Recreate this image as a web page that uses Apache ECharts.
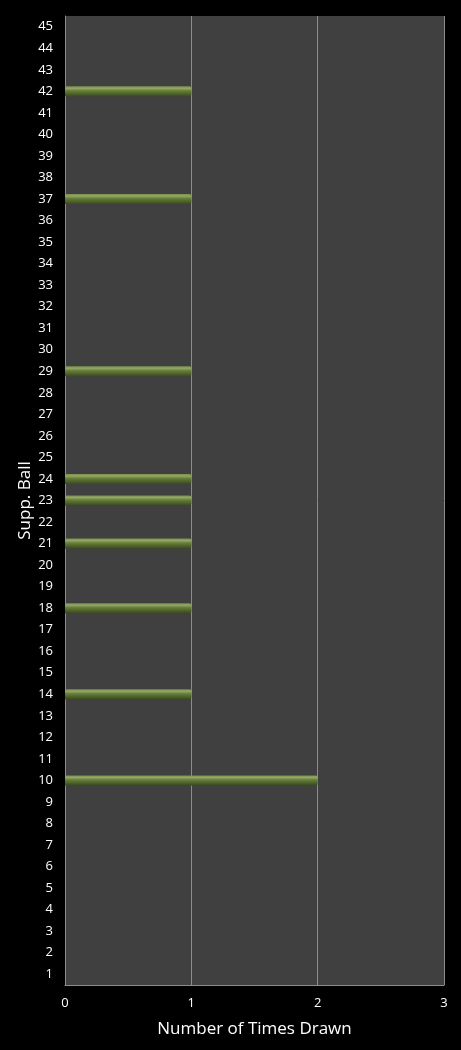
<!DOCTYPE html>
<html><head><meta charset="utf-8">
<style>html,body{margin:0;padding:0;background:#000;}#c{width:461px;height:1050px;}</style>
<script src="https://cdn.jsdelivr.net/npm/echarts@6/dist/echarts.min.js"></script>
</head><body><div id="c"></div>
<script>
const categories = Array.from({length:45},(_,i)=>String(i+1));
const drawnBalls = ['10','14','18','21','23','24','29','37','42'];
const drawnCounts = [2,1,1,1,1,1,1,1,1];
const xTicks = [0,1,2,3];
const values = categories.map(c => { const k = drawnBalls.indexOf(c); return k >= 0 ? drawnCounts[k] : 0; });

const chart = echarts.init(document.getElementById('c'));
chart.setOption({
  backgroundColor: '#000',
  animation: false,
  grid: {left: 65, right: 17, top: 16, bottom: 65, backgroundColor: '#404040', show: true, borderWidth: 0},
  xAxis: {
    type: 'value', min: 0, max: 3, interval: 1,
    name: 'Number of Times Drawn', nameLocation: 'middle', nameGap: 36,
    nameTextStyle: {color: '#fff', fontSize: 17, fontFamily: 'Open Sans'},
    axisLine: {show: true, lineStyle: {color: '#8c8c8c', width: 1}},
    axisTick: {show: false},
    axisLabel: {color: '#fff', fontSize: 13, fontFamily: 'Open Sans', margin: 12},
    splitLine: {show: true, lineStyle: {color: '#8c8c8c', width: 1}}
  },
  yAxis: {
    type: 'category', data: categories,
    name: 'Supp. Ball', nameLocation: 'middle', nameGap: 31, nameRotate: 90,
    nameMoveOverlap: false,
    nameTextStyle: {color: '#fff', fontSize: 17, fontFamily: 'Open Sans'},
    axisLine: {show: true, lineStyle: {color: '#8c8c8c', width: 1}},
    axisTick: {show: false},
    axisLabel: {color: '#fff', fontSize: 13, fontFamily: 'Open Sans', margin: 12, interval: 0},
    splitLine: {show: false}
  },
  series: [{
    type: 'bar', data: values, barWidth: 10,
    itemStyle: {
      color: new echarts.graphic.LinearGradient(0,0,0,1,[
        {offset:0, color:'#7a8f4c'},
        {offset:0.2, color:'#93a866'},
        {offset:0.45, color:'#667d38'},
        {offset:1, color:'#3a4a1e'}
      ]),
      borderRadius: [0,2,2,0]
    }
  }]
});
</script></body></html>
